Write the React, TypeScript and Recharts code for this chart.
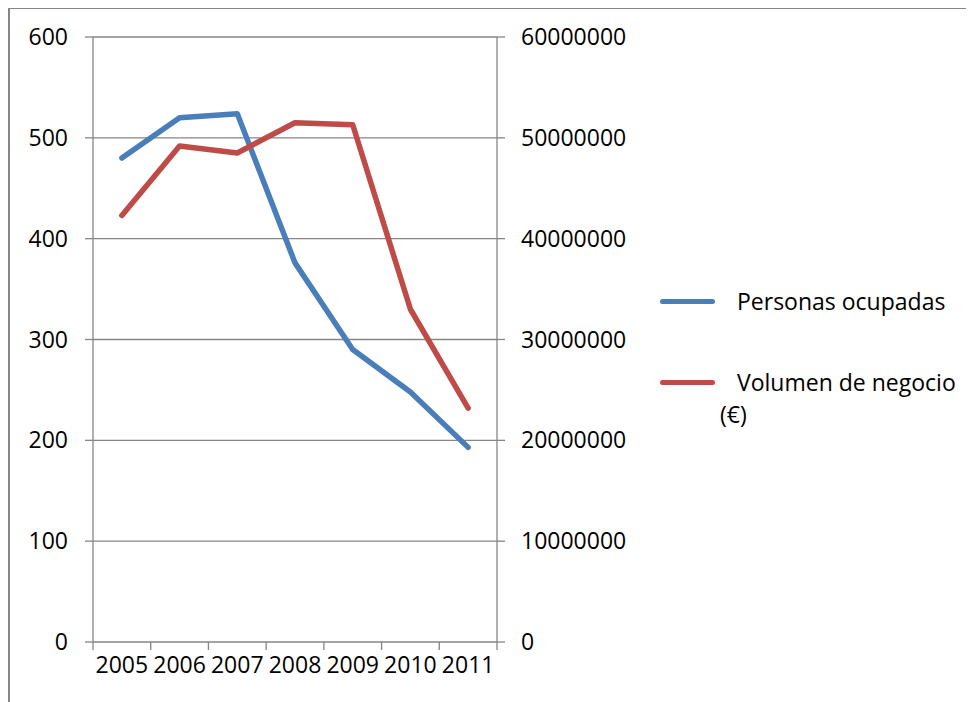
import { CartesianGrid, Line, LineChart, XAxis, YAxis } from 'recharts';

const YEARS = ['2005', '2006', '2007', '2008', '2009', '2010', '2011'];
const PERSONAS = [480, 520, 524, 376, 290, 248, 193];
const VOLUMEN = [42300000, 49200000, 48500000, 51500000, 51300000, 33000000, 23200000];

const LEFT_TICKS = [0, 100, 200, 300, 400, 500, 600];
const RIGHT_TICKS = [0, 10000000, 20000000, 30000000, 40000000, 50000000, 60000000];

const SERIES = [
  { key: 'personas', name: 'Personas ocupadas', color: '#4A7EBB', axis: 'l' },
  { key: 'volumen', name: 'Volumen de negocio (€)', color: '#BE4B48', axis: 'r' },
];

const GRAY = '#868686';
const FONT = '"Open Sans", sans-serif';

const data = YEARS.map((year, i) => ({
  year,
  personas: PERSONAS[i],
  volumen: VOLUMEN[i],
}));

const W = 966;
const H = 694;
const PLOT_LEFT = 85;
const PLOT_RIGHT = 489;
const BAND = (PLOT_RIGHT - PLOT_LEFT) / YEARS.length;
const LABEL_GAP = 15;

const tickStyle = { fill: '#000', fontSize: 23, fontFamily: FONT };

// year label centred in its band, with tick marks on the band edges
const YearTick = (props: any) => {
  const { x, y, payload, index } = props;
  const top = y - LABEL_GAP;
  const left = x - BAND / 2;
  return (
    <g>
      <line x1={left} x2={left} y1={top} y2={top + 8} stroke={GRAY} strokeWidth={1.3} />
      {index === YEARS.length - 1 && (
        <line x1={left + BAND} x2={left + BAND} y1={top} y2={top + 8} stroke={GRAY} strokeWidth={1.3} />
      )}
      <text x={x} y={y} dy="0.71em" textAnchor="middle" {...tickStyle}>
        {payload.value}
      </text>
    </g>
  );
};

export default function App() {
  return (
    <div style={{ position: 'relative', width: W, height: H, fontFamily: FONT }}>
      <LineChart
        width={W}
        height={H}
        data={data}
        margin={{ top: 29, right: 0, bottom: 0, left: 0 }}>
        <CartesianGrid vertical={false} stroke={GRAY} strokeWidth={1.3} yAxisId="l" />
        <XAxis
          dataKey="year"
          height={60}
          padding={{ left: BAND / 2, right: BAND / 2 }}
          axisLine={false}
          tickLine={false}
          tickSize={0}
          tickMargin={LABEL_GAP}
          interval={0}
          tick={<YearTick />}
        />
        <YAxis
          yAxisId="l"
          width={PLOT_LEFT}
          domain={[0, 600]}
          ticks={LEFT_TICKS}
          axisLine={{ stroke: GRAY, strokeWidth: 1.3 }}
          tickLine={{ stroke: GRAY, strokeWidth: 1.3 }}
          tickSize={8}
          tickMargin={17}
          tick={tickStyle}
        />
        <YAxis
          yAxisId="r"
          orientation="right"
          width={W - PLOT_RIGHT}
          domain={[0, 60000000]}
          ticks={RIGHT_TICKS}
          axisLine={{ stroke: GRAY, strokeWidth: 1.3 }}
          tickLine={{ stroke: GRAY, strokeWidth: 1.3 }}
          tickSize={8}
          tickMargin={16}
          tick={tickStyle}
        />
        {SERIES.map((s) => (
          <Line
            key={s.key}
            yAxisId={s.axis}
            dataKey={s.key}
            name={s.name}
            stroke={s.color}
            strokeWidth={5.5}
            strokeLinejoin="round"
            strokeLinecap="round"
            dot={false}
            activeDot={false}
            isAnimationActive={false}
          />
        ))}
      </LineChart>
      {SERIES.map((s, i) => (
        <div key={s.key}>
          <div
            style={{
              position: 'absolute',
              left: 652,
              top: 291 + i * 81,
              width: 55,
              height: 5,
              borderRadius: 3,
              background: s.color,
            }}
          />
          <div
            style={{
              position: 'absolute',
              left: 712,
              top: 277 + i * 81,
              width: 240,
              textIndent: 17,
              fontSize: 23,
              lineHeight: '32px',
              color: '#000',
            }}>
            {s.name}
          </div>
        </div>
      ))}
      <div style={{ position: 'absolute', left: 0, top: -1, width: 2, height: H + 1, background: GRAY, zIndex: 5 }} />
      <div style={{ position: 'absolute', left: 0, top: -1, width: W, height: 2, background: GRAY, zIndex: 5 }} />
    </div>
  );
}
